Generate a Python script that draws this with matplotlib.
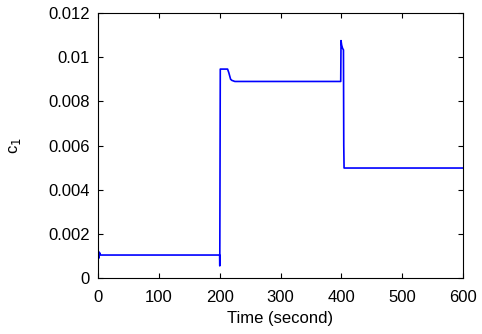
import numpy as np
import matplotlib
matplotlib.use('Agg')
import matplotlib.pyplot as plt

plt.rcParams['font.family'] = ['Liberation Sans', 'DejaVu Sans']

# piecewise response
time = [0, 0.3, 0.8, 1.5, 2.5, 4, 200, 200.2, 201, 203, 213, 215, 218, 220, 225,
        399, 399.5, 400.5, 402, 403.5, 404, 404.5, 600]
c1 = [0.012, 0.0009, 0.0012, 0.0009, 0.00115, 0.00104, 0.00104, 0.00055, 0.00946, 0.00946,
      0.00946, 0.0093, 0.0090, 0.00895, 0.0089,
      0.0089, 0.01075, 0.01055, 0.0104, 0.01033, 0.0060, 0.00498, 0.00498]

fig = plt.figure(figsize=(4.82, 3.34), dpi=100)
ax = fig.add_axes([98/482, 1 - 278/334, 365/482, 265/334])
ax.plot(time, c1, color='#0000ff', lw=1.2)

ax.set_xlim(0, 600)
ax.set_ylim(0, 0.012)
ax.set_xticks([0, 100, 200, 300, 400, 500, 600])
ax.set_yticks([0, 0.002, 0.004, 0.006, 0.008, 0.01, 0.012])
ax.set_yticklabels(['0', '0.002', '0.004', '0.006', '0.008', '0.01', '0.012'])
ax.tick_params(direction='in', top=True, right=True, labelsize=12, length=3.5)
ax.tick_params(axis='x', pad=9)
ax.tick_params(axis='y', pad=6)
ax.set_xlabel('Time (second)', fontsize=12, labelpad=4)
ax.set_ylabel('c$_1$', fontsize=12, labelpad=18)

plt.savefig('out.png', dpi=100)
